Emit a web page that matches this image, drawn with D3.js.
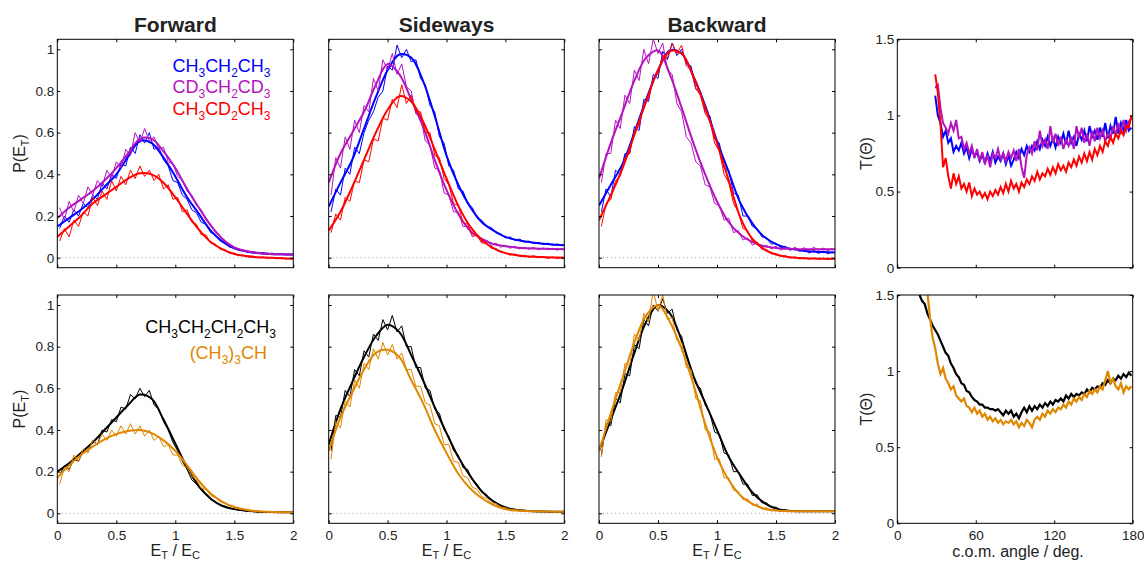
<!DOCTYPE html>
<html><head><meta charset="utf-8">
<script src="https://cdn.jsdelivr.net/npm/d3@7"></script>
<style>
body{margin:0;background:#fff;}
svg{display:block;font-family:"Liberation Sans",Arial,Helvetica,sans-serif;}
</style></head>
<body>
<svg id="c" width="1144" height="562"></svg>
<script>
// ---------- DATA ----------
const fitX = [0,0.1,0.2,0.3,0.4,0.5,0.6,0.7,0.8,0.9,1.0,1.1,1.2,1.3,1.4,1.5,1.6,1.7,1.8,1.9,2.0];
const dataX = [0.02,0.06,0.10,0.14,0.18,0.22,0.26,0.30,0.34,0.38,0.42,0.46,0.50,0.54,0.58,0.62,0.66,0.70,0.74,0.78,
  0.82,0.86,0.90,0.94,0.98,1.02,1.06,1.10,1.14,1.18,1.22,1.26,1.30,1.34,1.38,1.42,1.46,1.50,1.54,1.58,
  1.62,1.66,1.70,1.74,1.78,1.82,1.86,1.90,1.94,1.98];

const panelTitles = ["Forward","Sideways","Backward"];
const pTicksY = [0,0.2,0.4,0.6,0.8,1];
const pTicksX = [0,0.5,1,1.5,2];
const tTicksY = [0,0.5,1,1.5];
const tTicksX = [0,60,120,180];

// Forward (top)
const fwdBlueFit   = [0.15,0.19,0.23,0.28,0.34,0.40,0.485,0.56,0.55,0.48,0.39,0.29,0.21,0.13,0.077,0.045,0.03,0.022,0.018,0.016,0.015];
const fwdPurpleFit = [0.19,0.24,0.28,0.32,0.37,0.43,0.50,0.57,0.57,0.51,0.43,0.33,0.24,0.155,0.09,0.05,0.032,0.022,0.018,0.016,0.015];
const fwdRedFit    = [0.10,0.15,0.20,0.26,0.30,0.34,0.38,0.405,0.40,0.36,0.29,0.21,0.135,0.075,0.04,0.018,0.008,0.002,0,-0.003,-0.005];
const fwdBlueData  = [0.14,0.2,0.17,0.23,0.2,0.26,0.24,0.3,0.28,0.36,0.33,0.4,0.38,0.45,0.44,0.53,0.5,0.59,0.55,0.6,
  0.52,0.53,0.47,0.44,0.37,0.36,0.3,0.28,0.23,0.215,0.17,0.16,0.12,0.11,0.08,0.075,0.05,0.05,0.035,0.036,
  0.026,0.03,0.022,0.025,0.018,0.022,0.015,0.02,0.014,0.017];
const fwdPurpleData = [0.24,0.18,0.27,0.22,0.3,0.26,0.34,0.3,0.37,0.34,0.42,0.38,0.46,0.43,0.52,0.49,0.6,0.55,0.62,0.56,
  0.58,0.52,0.53,0.46,0.45,0.39,0.37,0.32,0.3,0.25,0.23,0.18,0.16,0.12,0.105,0.075,0.065,0.045,0.043,0.03,
  0.032,0.024,0.026,0.02,0.022,0.017,0.02,0.015,0.018,0.014];
const fwdRedData = [0.08,0.14,0.1,0.18,0.15,0.22,0.2,0.29,0.25,0.32,0.28,0.37,0.32,0.39,0.35,0.42,0.38,0.44,0.39,0.42,
  0.37,0.4,0.33,0.35,0.28,0.29,0.22,0.23,0.17,0.16,0.11,0.11,0.07,0.065,0.04,0.04,0.02,0.022,0.01,0.012,
  0.003,0.008,0,0.004,-0.003,0.002,-0.005,0,-0.006,-0.003];

// Sideways (top)
const sideBlueFit   = [0.245,0.36,0.47,0.62,0.77,0.90,0.975,0.96,0.85,0.68,0.49,0.35,0.245,0.17,0.13,0.10,0.085,0.075,0.068,0.063,0.06];
const sidePurpleFit = [0.36,0.50,0.60,0.70,0.83,0.93,0.88,0.76,0.63,0.47,0.325,0.21,0.13,0.09,0.065,0.055,0.048,0.045,0.043,0.042,0.04];
const sideRedFit    = [0.13,0.22,0.34,0.47,0.60,0.71,0.775,0.75,0.655,0.52,0.38,0.25,0.15,0.085,0.045,0.022,0.012,0.006,0.003,0.001,0];
const sideBlueData = [0.22,0.33,0.3,0.43,0.4,0.53,0.5,0.6,0.66,0.7,0.77,0.8,0.92,0.9,1.02,0.96,1.0,0.94,0.95,0.86,
  0.83,0.73,0.7,0.58,0.55,0.44,0.42,0.33,0.32,0.26,0.24,0.19,0.18,0.15,0.145,0.12,0.115,0.095,0.1,0.082,
  0.09,0.074,0.08,0.068,0.074,0.063,0.07,0.06,0.066,0.058];
const sidePurpleData = [0.3,0.48,0.43,0.58,0.52,0.66,0.6,0.73,0.7,0.86,0.8,0.95,0.9,0.98,0.88,0.93,0.82,0.8,0.69,0.68,
  0.56,0.54,0.43,0.42,0.31,0.3,0.22,0.22,0.15,0.15,0.1,0.11,0.075,0.085,0.058,0.07,0.05,0.06,0.045,0.055,
  0.042,0.05,0.04,0.049,0.038,0.047,0.039,0.045,0.036,0.044];
const sideRedData = [0.12,0.21,0.18,0.29,0.27,0.37,0.36,0.47,0.46,0.57,0.56,0.67,0.66,0.76,0.72,0.83,0.74,0.78,0.7,0.7,
  0.6,0.6,0.49,0.48,0.38,0.35,0.26,0.25,0.17,0.16,0.11,0.105,0.07,0.07,0.045,0.045,0.025,0.025,0.012,0.018,
  0.006,0.012,0.002,0.01,0,0.006,-0.004,0.004,-0.004,0.002];

// Backward (top)
const backBlueFit   = [0.25,0.35,0.45,0.60,0.76,0.90,0.995,0.98,0.87,0.73,0.56,0.41,0.26,0.165,0.10,0.065,0.046,0.036,0.03,0.027,0.025];
const backPurpleFit = [0.38,0.55,0.70,0.85,0.96,0.995,0.88,0.72,0.55,0.40,0.27,0.17,0.11,0.075,0.055,0.047,0.043,0.041,0.04,0.04,0.04];
const backRedFit    = [0.18,0.30,0.43,0.59,0.75,0.90,0.99,0.98,0.87,0.72,0.55,0.37,0.19,0.09,0.04,0.015,0.003,-0.002,-0.004,-0.005,-0.005];
const backBlueData = [0.22,0.33,0.29,0.42,0.4,0.5,0.5,0.63,0.61,0.76,0.75,0.88,0.86,0.99,0.95,1.03,0.97,1.0,0.93,0.92,
  0.81,0.8,0.7,0.68,0.57,0.55,0.43,0.42,0.31,0.3,0.2,0.2,0.15,0.14,0.1,0.095,0.065,0.07,0.048,0.055,
  0.035,0.046,0.03,0.04,0.022,0.035,0.02,0.032,0.018,0.03];
const backPurpleData = [0.36,0.5,0.5,0.66,0.62,0.78,0.74,0.9,0.85,1.0,0.93,1.05,0.98,1.03,0.9,0.88,0.74,0.7,0.58,0.55,
  0.46,0.44,0.35,0.34,0.26,0.25,0.18,0.19,0.12,0.13,0.085,0.095,0.06,0.075,0.048,0.06,0.042,0.055,0.036,0.05,
  0.038,0.05,0.035,0.048,0.034,0.05,0.036,0.046,0.034,0.045];
const backRedData = [0.15,0.26,0.28,0.37,0.39,0.48,0.5,0.61,0.63,0.74,0.76,0.86,0.88,0.97,0.96,1.03,0.98,1.02,0.92,0.9,
  0.81,0.78,0.69,0.66,0.55,0.51,0.4,0.36,0.26,0.22,0.14,0.13,0.08,0.075,0.04,0.04,0.018,0.02,0.006,0.01,
  -0.002,0.004,-0.006,0,-0.007,-0.002,-0.008,-0.003,-0.008,-0.004];

// Bottom row
const fwdBlackFit  = [0.20,0.24,0.29,0.34,0.40,0.46,0.52,0.57,0.55,0.45,0.335,0.22,0.13,0.07,0.035,0.02,0.012,0.008,0.006,0.005,0.005];
const fwdOrangeFit = [0.17,0.23,0.28,0.32,0.355,0.38,0.395,0.40,0.385,0.35,0.30,0.23,0.155,0.095,0.055,0.03,0.017,0.01,0.007,0.005,0.005];
const fwdBlackData = [0.18,0.23,0.21,0.26,0.25,0.3,0.3,0.35,0.33,0.4,0.39,0.45,0.44,0.51,0.5,0.57,0.55,0.6,0.56,0.59,
  0.52,0.5,0.44,0.4,0.34,0.3,0.25,0.21,0.16,0.14,0.11,0.09,0.065,0.055,0.04,0.035,0.024,0.02,0.014,0.013,
  0.009,0.01,0.006,0.008,0.005,0.006,0.004,0.006,0.004,0.005];
const fwdOrangeData = [0.14,0.22,0.2,0.28,0.25,0.31,0.29,0.35,0.33,0.38,0.35,0.4,0.37,0.42,0.38,0.43,0.38,0.42,0.37,0.4,
  0.35,0.37,0.32,0.33,0.28,0.28,0.23,0.22,0.18,0.16,0.12,0.115,0.085,0.075,0.055,0.048,0.034,0.03,0.02,0.019,
  0.012,0.012,0.008,0.008,0.005,0.007,0.004,0.006,0.004,0.005];

const sideBlackFit  = [0.33,0.50,0.63,0.75,0.85,0.905,0.87,0.76,0.64,0.51,0.385,0.27,0.18,0.105,0.056,0.028,0.016,0.011,0.009,0.008,0.007];
const sideOrangeFit = [0.30,0.46,0.58,0.69,0.77,0.785,0.75,0.64,0.53,0.40,0.29,0.19,0.12,0.072,0.04,0.02,0.013,0.01,0.009,0.008,0.008];
const sideBlackData = [0.3,0.47,0.46,0.59,0.56,0.69,0.66,0.78,0.75,0.86,0.83,0.93,0.88,0.95,0.87,0.9,0.8,0.8,0.7,0.7,
  0.6,0.59,0.5,0.48,0.4,0.37,0.3,0.28,0.22,0.21,0.16,0.14,0.1,0.09,0.062,0.053,0.035,0.031,0.02,0.02,
  0.013,0.015,0.01,0.011,0.008,0.01,0.007,0.009,0.006,0.008];
const sideOrangeData = [0.26,0.44,0.41,0.54,0.51,0.64,0.6,0.72,0.69,0.79,0.74,0.82,0.76,0.81,0.74,0.77,0.69,0.69,0.61,0.61,
  0.53,0.52,0.43,0.42,0.33,0.33,0.25,0.245,0.18,0.17,0.125,0.115,0.08,0.072,0.05,0.047,0.03,0.027,0.017,0.018,
  0.012,0.013,0.01,0.011,0.008,0.01,0.008,0.009,0.007,0.009];

const backBlackFit  = [0.30,0.45,0.60,0.77,0.92,1.0,0.96,0.83,0.66,0.53,0.40,0.27,0.18,0.10,0.05,0.022,0.012,0.01,0.01,0.01,0.01];
const backOrangeFit = [0.30,0.48,0.65,0.82,0.95,1.0,0.92,0.79,0.62,0.43,0.27,0.16,0.085,0.045,0.022,0.013,0.01,0.01,0.01,0.01,0.01];
const backBlackData = [0.28,0.43,0.42,0.55,0.53,0.67,0.66,0.81,0.79,0.93,0.9,1.0,0.97,1.03,0.96,0.98,0.88,0.85,0.75,0.7,
  0.62,0.6,0.52,0.48,0.39,0.38,0.29,0.28,0.2,0.2,0.14,0.14,0.085,0.09,0.05,0.05,0.028,0.03,0.014,0.018,
  0.009,0.014,0.008,0.012,0.008,0.012,0.008,0.011,0.008,0.011];
const backOrangeData = [0.27,0.45,0.44,0.58,0.58,0.72,0.71,0.86,0.83,0.96,0.92,1.07,0.97,1.05,0.93,0.94,0.83,0.82,0.7,0.69,
  0.55,0.54,0.4,0.39,0.26,0.26,0.17,0.17,0.11,0.105,0.065,0.07,0.038,0.045,0.02,0.028,0.012,0.018,0.009,0.014,
  0.008,0.012,0.008,0.012,0.008,0.012,0.008,0.011,0.008,0.011];

// T(Theta) — top: angles 29..179 step 2
const tTopStart = 29;
const tBlue = [1.13,1.0,0.95,0.86,0.9,0.82,0.85,0.76,0.8,0.77,0.82,0.75,0.79,0.72,0.78,0.73,0.76,0.7,0.74,0.69,
  0.75,0.7,0.76,0.69,0.73,0.7,0.75,0.68,0.74,0.67,0.71,0.76,0.72,0.78,0.74,0.8,0.76,0.8,0.77,0.83,
  0.78,0.84,0.8,0.86,0.8,0.85,0.79,0.86,0.82,0.88,0.81,0.9,0.82,0.86,0.8,0.88,0.84,0.9,0.83,0.93,
  0.86,0.9,0.84,0.92,0.86,0.95,0.85,0.93,0.88,0.99,0.88,0.95,0.9,0.97,0.9,0.92];
const tPurple = [1.18,1.2,1.05,0.95,0.92,0.88,0.95,0.9,0.97,0.85,0.86,0.78,0.82,0.75,0.8,0.72,0.78,0.7,0.76,0.68,
  0.74,0.66,0.75,0.72,0.78,0.71,0.75,0.7,0.76,0.72,0.77,0.7,0.78,0.66,0.59,0.74,0.79,0.75,0.83,0.77,
  0.9,0.8,0.84,0.78,0.93,0.82,0.88,0.8,0.86,0.78,0.84,0.8,0.86,0.78,0.93,0.85,0.92,0.82,0.88,0.8,
  0.9,0.83,0.92,0.85,0.9,0.83,0.88,0.85,0.93,0.87,0.95,0.88,0.97,0.9,0.96,0.98];
const tRed = [1.27,1.15,0.95,0.66,0.72,0.6,0.52,0.62,0.55,0.6,0.52,0.55,0.5,0.56,0.47,0.52,0.48,0.5,0.46,0.49,
  0.45,0.5,0.47,0.51,0.48,0.53,0.49,0.55,0.5,0.57,0.52,0.55,0.5,0.56,0.53,0.58,0.55,0.6,0.57,0.63,
  0.58,0.62,0.6,0.65,0.61,0.66,0.62,0.68,0.64,0.67,0.63,0.69,0.66,0.71,0.67,0.73,0.69,0.75,0.7,0.76,
  0.71,0.78,0.74,0.8,0.76,0.83,0.8,0.86,0.82,0.88,0.85,0.9,0.87,0.93,0.92,1.0];
// bottom: black from 17, orange from 23, step 2
const tBlackStart = 17;
const tBlack = [1.5,1.46,1.44,1.38,1.34,1.3,1.27,1.24,1.2,1.16,1.12,1.1,1.05,1.02,0.98,0.96,0.92,0.91,0.87,0.86,
  0.83,0.81,0.8,0.78,0.78,0.76,0.76,0.75,0.75,0.74,0.75,0.73,0.71,0.74,0.72,0.74,0.7,0.72,0.69,0.73,
  0.76,0.73,0.77,0.74,0.77,0.75,0.78,0.76,0.79,0.77,0.8,0.78,0.81,0.8,0.82,0.8,0.84,0.82,0.85,0.83,
  0.85,0.84,0.86,0.85,0.88,0.86,0.89,0.88,0.9,0.89,0.92,0.91,0.94,0.92,0.95,0.94,0.97,0.95,0.98,0.96,
  0.99,0.97];
const tOrangeStart = 23;
const tOrange = [1.52,1.35,1.22,1.15,1.05,0.98,1.02,0.95,0.92,0.88,0.9,0.84,0.82,0.8,0.82,0.77,0.76,0.73,0.76,0.72,
  0.74,0.7,0.72,0.68,0.7,0.67,0.69,0.66,0.68,0.65,0.67,0.66,0.68,0.65,0.67,0.63,0.66,0.64,0.68,0.66,
  0.63,0.68,0.7,0.68,0.72,0.7,0.74,0.72,0.75,0.73,0.76,0.75,0.78,0.76,0.8,0.78,0.82,0.8,0.83,0.81,
  0.85,0.83,0.87,0.85,0.88,0.86,0.9,0.88,0.94,1.0,0.92,0.95,0.9,0.88,0.92,0.86,0.9,0.88,0.9];

// ---------- STYLE ----------
const C = {blue:"#0000ff", purple:"#b414c0", red:"#ff0000", black:"#000000", orange:"#e08700"};
const cols = [[57.3,293.3],[328.7,564.3],[599,835],[897.3,1132.7]];
const rows = [[39.3,267.7],[295,523.3]];
const TXT = "#222";

const svg = d3.select("#c");
const defs = svg.append("defs");

const pPanels = [
  {r:0,c:0,s:[[C.blue,fwdBlueData,fwdBlueFit],[C.purple,fwdPurpleData,fwdPurpleFit],[C.red,fwdRedData,fwdRedFit]]},
  {r:0,c:1,s:[[C.blue,sideBlueData,sideBlueFit],[C.purple,sidePurpleData,sidePurpleFit],[C.red,sideRedData,sideRedFit]]},
  {r:0,c:2,s:[[C.blue,backBlueData,backBlueFit],[C.purple,backPurpleData,backPurpleFit],[C.red,backRedData,backRedFit]]},
  {r:1,c:0,s:[[C.black,fwdBlackData,fwdBlackFit],[C.orange,fwdOrangeData,fwdOrangeFit]]},
  {r:1,c:1,s:[[C.black,sideBlackData,sideBlackFit],[C.orange,sideOrangeData,sideOrangeFit]]},
  {r:1,c:2,s:[[C.black,backBlackData,backBlackFit],[C.orange,backOrangeData,backOrangeFit]]},
];

let clipId = 0;
function frame(x, y, xt, yt, showX, showY, yFmt) {
  const g = svg.append("g");
  const [x0,x1] = x.range(), [yB,yT] = y.range();
  const ax = (a, tv, fmt, tr) => {
    const gg = g.append("g").attr("transform", tr)
      .call(a.tickValues(tv).tickSizeInner(-3).tickSizeOuter(0).tickFormat(fmt));
    gg.select(".domain").remove();
    gg.selectAll("line").attr("stroke","#000").attr("stroke-width",1);
    gg.selectAll("text").attr("font-size","13.5px").attr("fill",TXT).attr("font-family",null);
    return gg;
  };
  const bx = ax(d3.axisBottom(x), xt, showX ? d3.format("~g") : "", `translate(0,${yB})`);
  bx.call(a=>a.selectAll("text").attr("y",7));
  ax(d3.axisTop(x), xt, "", `translate(0,${yT})`);
  const ly = ax(d3.axisLeft(y), yt, showY ? yFmt : "", `translate(${x0},0)`);
  ly.call(a=>a.selectAll("text").attr("x",-3));
  ax(d3.axisRight(y), yt, "", `translate(${x1},0)`);
  g.append("rect").attr("x",x0).attr("y",yT).attr("width",x1-x0).attr("height",yB-yT)
    .attr("fill","none").attr("stroke","#000").attr("stroke-width",1);
}

function clipFor(x, y) {
  const id = "clip" + (clipId++);
  const [x0,x1] = x.range(), [yB,yT] = y.range();
  defs.append("clipPath").attr("id",id).append("rect")
    .attr("x",x0).attr("y",yT).attr("width",x1-x0).attr("height",yB-yT);
  return svg.append("g").attr("clip-path",`url(#${id})`);
}

// P(E_T) panels
pPanels.forEach(p => {
  const [x0,x1] = cols[p.c], [yt,yb] = rows[p.r];
  const x = d3.scaleLinear().domain([0,2]).range([x0,x1]);
  const y = d3.scaleLinear().domain([-0.048,1.048]).range([yb,yt]);
  const g = clipFor(x,y);
  g.append("line").attr("x1",x0).attr("x2",x1).attr("y1",y(0)).attr("y2",y(0))
    .attr("stroke","#9a9a9a").attr("stroke-width",1).attr("stroke-dasharray","1,3");
  const dLine = d3.line().x((d,i)=>x(dataX[i])).y(d=>y(d));
  const fLine = d3.line().x((d,i)=>x(fitX[i])).y(d=>y(d)).curve(d3.curveCatmullRom.alpha(0.5));
  p.s.forEach(([col,data,fit]) => {
    g.append("path").attr("d",dLine(data)).attr("fill","none").attr("stroke",col).attr("stroke-width",1);
    g.append("path").attr("d",fLine(fit)).attr("fill","none").attr("stroke",col).attr("stroke-width",2);
  });
  frame(x, y, pTicksX, pTicksY, p.r===1, p.c===0, d3.format("~g"));
  if (p.r===0) {
    svg.append("text").attr("x",(x0+x1)/2).attr("y",31.5).attr("text-anchor","middle")
      .attr("font-size","21px").attr("font-weight","bold").attr("fill",TXT).text(panelTitles[p.c]);
  } else {
    const t = svg.append("text").attr("x",(x0+x1)/2).attr("y",556).attr("text-anchor","middle")
      .attr("font-size","16px").attr("fill",TXT);
    t.append("tspan").text("E");
    t.append("tspan").attr("font-size","11px").attr("dy",3).text("T");
    t.append("tspan").attr("dy",-3).text(" / E");
    t.append("tspan").attr("font-size","11px").attr("dy",3).text("C");
  }
  if (p.c===0) {
    const cy = (yt+yb)/2;
    const t = svg.append("text").attr("transform",`translate(25,${cy}) rotate(-90)`)
      .attr("text-anchor","middle").attr("font-size","16px").attr("fill",TXT);
    t.append("tspan").text("P(E");
    t.append("tspan").attr("font-size","11px").attr("dy",4).text("T");
    t.append("tspan").attr("dy",-4).text(")");
  }
});

// T(Theta) panels
const tPanels = [
  {r:0, s:[[C.blue,tBlue,tTopStart],[C.purple,tPurple,tTopStart],[C.red,tRed,tTopStart]]},
  {r:1, s:[[C.black,tBlack,tBlackStart],[C.orange,tOrange,tOrangeStart]]},
];
tPanels.forEach(p => {
  const [x0,x1] = cols[3], [yt,yb] = rows[p.r];
  const x = d3.scaleLinear().domain([0,180]).range([x0,x1]);
  const y = d3.scaleLinear().domain([0,1.5]).range([yb,yt]);
  const g = clipFor(x,y);
  p.s.forEach(([col,vals,start]) => {
    const line = d3.line().x((d,i)=>x(start+2*i)).y(d=>y(d));
    g.append("path").attr("d",line(vals)).attr("fill","none").attr("stroke",col).attr("stroke-width",p.r===1?2.2:2);
  });
  frame(x, y, tTicksX, tTicksY, p.r===1, true, d3.format("~g"));
  svg.append("text").attr("transform",`translate(872,${(yt+yb)/2}) rotate(-90)`)
    .attr("text-anchor","middle").attr("font-size","16px").attr("fill",TXT).text("T(Θ)");
  if (p.r===1) {
    svg.append("text").attr("x",(x0+x1)/2+3).attr("y",557).attr("text-anchor","middle")
      .attr("font-size","16px").attr("fill",TXT).text("c.o.m. angle / deg.");
  }
});

// Legends
function chem(xr, yb, parts, col) {
  const t = svg.append("text").attr("x",xr).attr("y",yb).attr("text-anchor","end")
    .attr("font-size","18px").attr("fill",col);
  let sub = false;
  parts.forEach(pt => {
    const isSub = /^[0-9]$/.test(pt);
    const ts = t.append("tspan").text(pt);
    if (isSub && !sub) { ts.attr("font-size","12px").attr("dy",5); sub = true; }
    else if (isSub) { ts.attr("font-size","12px"); }
    else if (!isSub && sub) { ts.attr("dy",-5); sub = false; }
  });
}
chem(270.5, 71.7, ["CH","3","CH","2","CH","3"], C.blue);
chem(270.5, 93.3, ["CD","3","CH","2","CD","3"], C.purple);
chem(270.5, 115, ["CH","3","CD","2","CH","3"], C.red);
chem(276, 332.5, ["CH","3","CH","2","CH","2","CH","3"], C.black);
chem(267, 358.5, ["(CH","3",")","3","CH"], C.orange);
</script>
</body></html>
